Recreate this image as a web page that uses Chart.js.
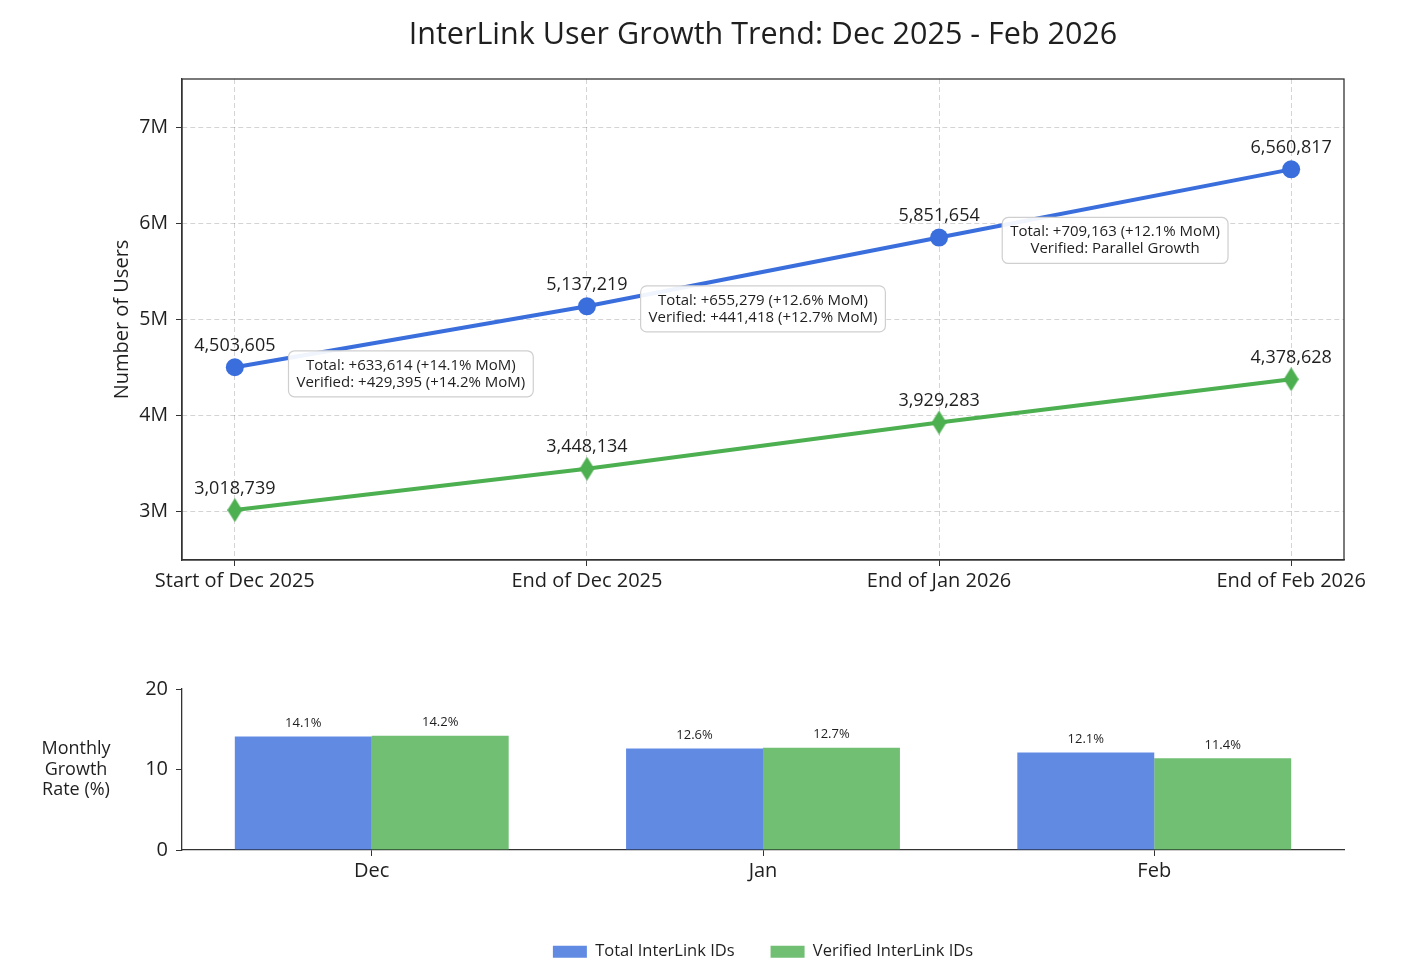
<!DOCTYPE html>
<html>
<head>
<meta charset="utf-8">
<title>InterLink User Growth Trend</title>
<script src="https://cdn.jsdelivr.net/npm/chart.js@4.4.1/dist/chart.umd.min.js"></script>
<style>
  html, body { margin: 0; padding: 0; background: #fff; overflow: hidden; }
  #wrap { position: relative; width: 1408px; height: 978px; }
  #trendBox { position: absolute; left: 0; top: 0; width: 1408px; height: 610px; }
  #rateBox { position: absolute; left: 0; top: 620px; width: 1408px; height: 350px; }
</style>
</head>
<body>
<div id="wrap">
  <div id="trendBox"><canvas id="trendChart"></canvas></div>
  <div id="rateBox"><canvas id="rateChart"></canvas></div>
</div>
<script>
// ---- data ----
const stages = ['Start of Dec 2025', 'End of Dec 2025', 'End of Jan 2026', 'End of Feb 2026'];
const totalUsers = [4503605, 5137219, 5851654, 6560817];
const verifiedUsers = [3018739, 3448134, 3929283, 4378628];
const userTicks = [3000000, 4000000, 5000000, 6000000, 7000000];

const months = ['Dec', 'Jan', 'Feb'];
const totalGrowth = [14.1, 12.6, 12.1];
const verifiedGrowth = [14.2, 12.7, 11.4];
const rateTicks = [0, 10, 20];

const noteLines = [
    ['Total: +633,614 (+14.1% MoM)', 'Verified: +429,395 (+14.2% MoM)'],
    ['Total: +655,279 (+12.6% MoM)', 'Verified: +441,418 (+12.7% MoM)'],
    ['Total: +709,163 (+12.1% MoM)', 'Verified: Parallel Growth']
];

// ---- styling ----
const FONT = '"Open Sans", "Noto Sans", sans-serif';
const INK = '#1f1f1f';
const BLUE = '#3a6edc';
const GREEN = '#4caf50';
const BLUE_BAR = 'rgba(58,110,220,0.8)';
const GREEN_BAR = 'rgba(76,175,80,0.8)';
const AXIS = '#333';
const GRID = 'rgba(0,0,0,0.17)';

// matplotlib-style thin diamond marker
function makeThinDiamond(color, w, h) {
    const c = document.createElement('canvas');
    c.width = w;
    c.height = h;
    const g = c.getContext('2d');
    g.fillStyle = color;
    g.beginPath();
    g.moveTo(w / 2, 0);
    g.lineTo(w, h / 2);
    g.lineTo(w / 2, h);
    g.lineTo(0, h / 2);
    g.closePath();
    g.fill();
    return c;
}

/* ===== plugins ===== */
const framePlugin = {
    id: 'frame',
    afterDraw(chart) {
        const a = chart.chartArea;
        const ctx = chart.ctx;
        ctx.save();
        ctx.strokeStyle = AXIS;
        ctx.lineWidth = 1.3;
        ctx.strokeRect(a.left, a.top, a.right - a.left, a.bottom - a.top);
        ctx.restore();
    }
};

const pointLabelPlugin = {
    id: 'pointLabels',
    afterDatasetsDraw(chart) {
        const ctx = chart.ctx;
        ctx.save();
        ctx.font = '18px ' + FONT;
        ctx.fillStyle = INK;
        ctx.textAlign = 'center';
        ctx.textBaseline = 'middle';
        chart.data.datasets.forEach((ds, di) => {
            chart.getDatasetMeta(di).data.forEach((pt, i) => {
                ctx.fillText(ds.data[i].y.toLocaleString('en-US'), pt.x, pt.y - 21.5);
            });
        });
        ctx.restore();
    }
};

const notePlugin = {
    id: 'notes',
    afterDatasetsDraw(chart) {
        const ctx = chart.ctx;
        const xs = chart.scales.x;
        const ys = chart.scales.y;
        ctx.save();
        ctx.font = '15px ' + FONT;
        noteLines.forEach((lines, i) => {
            const cx = xs.getPixelForValue(i + 0.5);
            const cy = ys.getPixelForValue((totalUsers[i] + totalUsers[i + 1]) / 2) + 37;
            const w = Math.max(...lines.map(t => ctx.measureText(t).width)) + 16;
            const h = 46;
            ctx.beginPath();
            ctx.roundRect(cx - w / 2, cy - h / 2, w, h, 6);
            ctx.fillStyle = 'rgba(255,255,255,0.92)';
            ctx.fill();
            ctx.strokeStyle = '#cfcfcf';
            ctx.lineWidth = 1.2;
            ctx.stroke();
            ctx.fillStyle = INK;
            ctx.textAlign = 'center';
            ctx.textBaseline = 'middle';
            ctx.fillText(lines[0], cx, cy - 8.5);
            ctx.fillText(lines[1], cx, cy + 8.5);
        });
        ctx.restore();
    }
};

const barLabelPlugin = {
    id: 'barLabels',
    afterDatasetsDraw(chart) {
        const ctx = chart.ctx;
        ctx.save();
        ctx.font = '13px ' + FONT;
        ctx.fillStyle = INK;
        ctx.textAlign = 'center';
        ctx.textBaseline = 'middle';
        chart.data.datasets.forEach((ds, di) => {
            chart.getDatasetMeta(di).data.forEach((bar, i) => {
                ctx.fillText(ds.data[i].y.toFixed(1) + '%', bar.x, bar.y - 13);
            });
        });
        ctx.restore();
    }
};

// horizontal, multi-line y axis title of the rate chart
const rateTitlePlugin = {
    id: 'rateTitle',
    afterDraw(chart) {
        const a = chart.chartArea;
        const ctx = chart.ctx;
        const cx = a.left - 106;
        const cy = (a.top + a.bottom) / 2;
        ctx.save();
        ctx.font = '18px ' + FONT;
        ctx.fillStyle = INK;
        ctx.textAlign = 'center';
        ctx.textBaseline = 'middle';
        ['Monthly', 'Growth', 'Rate (%)'].forEach((t, i) => {
            ctx.fillText(t, cx, cy + (i - 1) * 20.5);
        });
        ctx.restore();
    }
};

/* ===== line chart: user totals ===== */
new Chart(document.getElementById('trendChart'), {
    type: 'line',
    data: {
        datasets: [{
            label: 'Total InterLink IDs',
            data: totalUsers.map((v, i) => ({ x: i, y: v })),
            borderColor: BLUE,
            backgroundColor: BLUE,
            borderWidth: 4,
            pointStyle: 'circle',
            pointRadius: 9,
            pointHoverRadius: 9,
            pointBorderWidth: 0,
            tension: 0
        }, {
            label: 'Verified InterLink IDs',
            data: verifiedUsers.map((v, i) => ({ x: i, y: v })),
            borderColor: GREEN,
            backgroundColor: GREEN,
            borderWidth: 4,
            pointStyle: makeThinDiamond(GREEN, 15, 24),
            pointRadius: 12,
            tension: 0
        }]
    },
    options: {
        responsive: true,
        maintainAspectRatio: false,
        animation: false,
        layout: { padding: { left: 0, right: 64, top: 0, bottom: 0 } },
        plugins: {
            legend: { display: false },
            tooltip: { enabled: false },
            title: {
                display: true,
                fullSize: false,
                text: 'InterLink User Growth Trend: Dec 2025 - Feb 2026',
                color: INK,
                font: { family: FONT, size: 30.5, weight: 'normal', lineHeight: 1.2 },
                padding: { top: 17, bottom: 25.4 }
            }
        },
        scales: {
            x: {
                type: 'linear',
                min: -0.15,
                max: 3.15,
                afterBuildTicks: (axis) => { axis.ticks = stages.map((s, i) => ({ value: i })); },
                afterFit: (axis) => { axis.height = 50; },
                ticks: {
                    callback: (v) => stages[v],
                    color: INK,
                    font: { family: FONT, size: 20 },
                    padding: 3,
                    maxRotation: 0,
                    autoSkip: false
                },
                grid: { color: GRID, tickColor: AXIS, tickLength: 6, lineWidth: 1 },
                border: { color: AXIS, width: 1.3, dash: [5, 3] }
            },
            y: {
                min: 2500000,
                max: 7500000,
                afterBuildTicks: (axis) => { axis.ticks = userTicks.map(v => ({ value: v })); },
                afterFit: (axis) => { axis.width = 182; },
                ticks: {
                    callback: (v) => (v / 1000000) + 'M',
                    color: INK,
                    font: { family: FONT, size: 19.5 },
                    padding: 8
                },
                title: {
                    display: true,
                    text: 'Number of Users',
                    color: INK,
                    font: { family: FONT, size: 20 },
                    padding: { top: 110, bottom: 0 }
                },
                grid: { color: GRID, tickColor: AXIS, tickLength: 6, lineWidth: 1 },
                border: { color: AXIS, width: 1.3, dash: [5, 3] }
            }
        }
    },
    plugins: [framePlugin, notePlugin, pointLabelPlugin]
});

/* ===== bar chart: monthly growth rate ===== */
new Chart(document.getElementById('rateChart'), {
    type: 'bar',
    data: {
        datasets: [{
            label: 'Total InterLink IDs',
            data: totalGrowth.map((v, i) => ({ x: i, y: v })),
            backgroundColor: BLUE_BAR,
            borderWidth: 0,
            categoryPercentage: 0.7,
            barPercentage: 1
        }, {
            label: 'Verified InterLink IDs',
            data: verifiedGrowth.map((v, i) => ({ x: i, y: v })),
            backgroundColor: GREEN_BAR,
            borderWidth: 0,
            categoryPercentage: 0.7,
            barPercentage: 1
        }]
    },
    options: {
        responsive: true,
        maintainAspectRatio: false,
        animation: false,
        layout: { padding: { left: 0, right: 64, top: 69, bottom: 0 } },
        plugins: {
            tooltip: { enabled: false },
            legend: {
                position: 'bottom',
                fullSize: false,
                labels: {
                    boxWidth: 34,
                    boxHeight: 12,
                    padding: 36,
                    color: INK,
                    font: { family: FONT, size: 16.5 }
                }
            }
        },
        scales: {
            x: {
                type: 'linear',
                min: -0.485,
                max: 2.485,
                offset: false,
                afterBuildTicks: (axis) => { axis.ticks = months.map((m, i) => ({ value: i })); },
                afterFit: (axis) => { axis.height = 57.5; },
                ticks: {
                    callback: (v) => months[v],
                    color: INK,
                    font: { family: FONT, size: 20 },
                    padding: 3,
                    maxRotation: 0,
                    autoSkip: false
                },
                grid: { drawOnChartArea: false, offset: false, tickColor: AXIS, tickLength: 6 },
                border: { color: AXIS, width: 1.3 }
            },
            y: {
                min: 0,
                max: 20,
                afterBuildTicks: (axis) => { axis.ticks = rateTicks.map(v => ({ value: v })); },
                afterFit: (axis) => { axis.width = 182; },
                ticks: {
                    color: INK,
                    font: { family: FONT, size: 20 },
                    padding: 8
                },
                grid: { drawOnChartArea: false, tickColor: AXIS, tickLength: 6 },
                border: { color: AXIS, width: 1.3 }
            }
        }
    },
    plugins: [barLabelPlugin, rateTitlePlugin]
});
</script>
</body>
</html>
